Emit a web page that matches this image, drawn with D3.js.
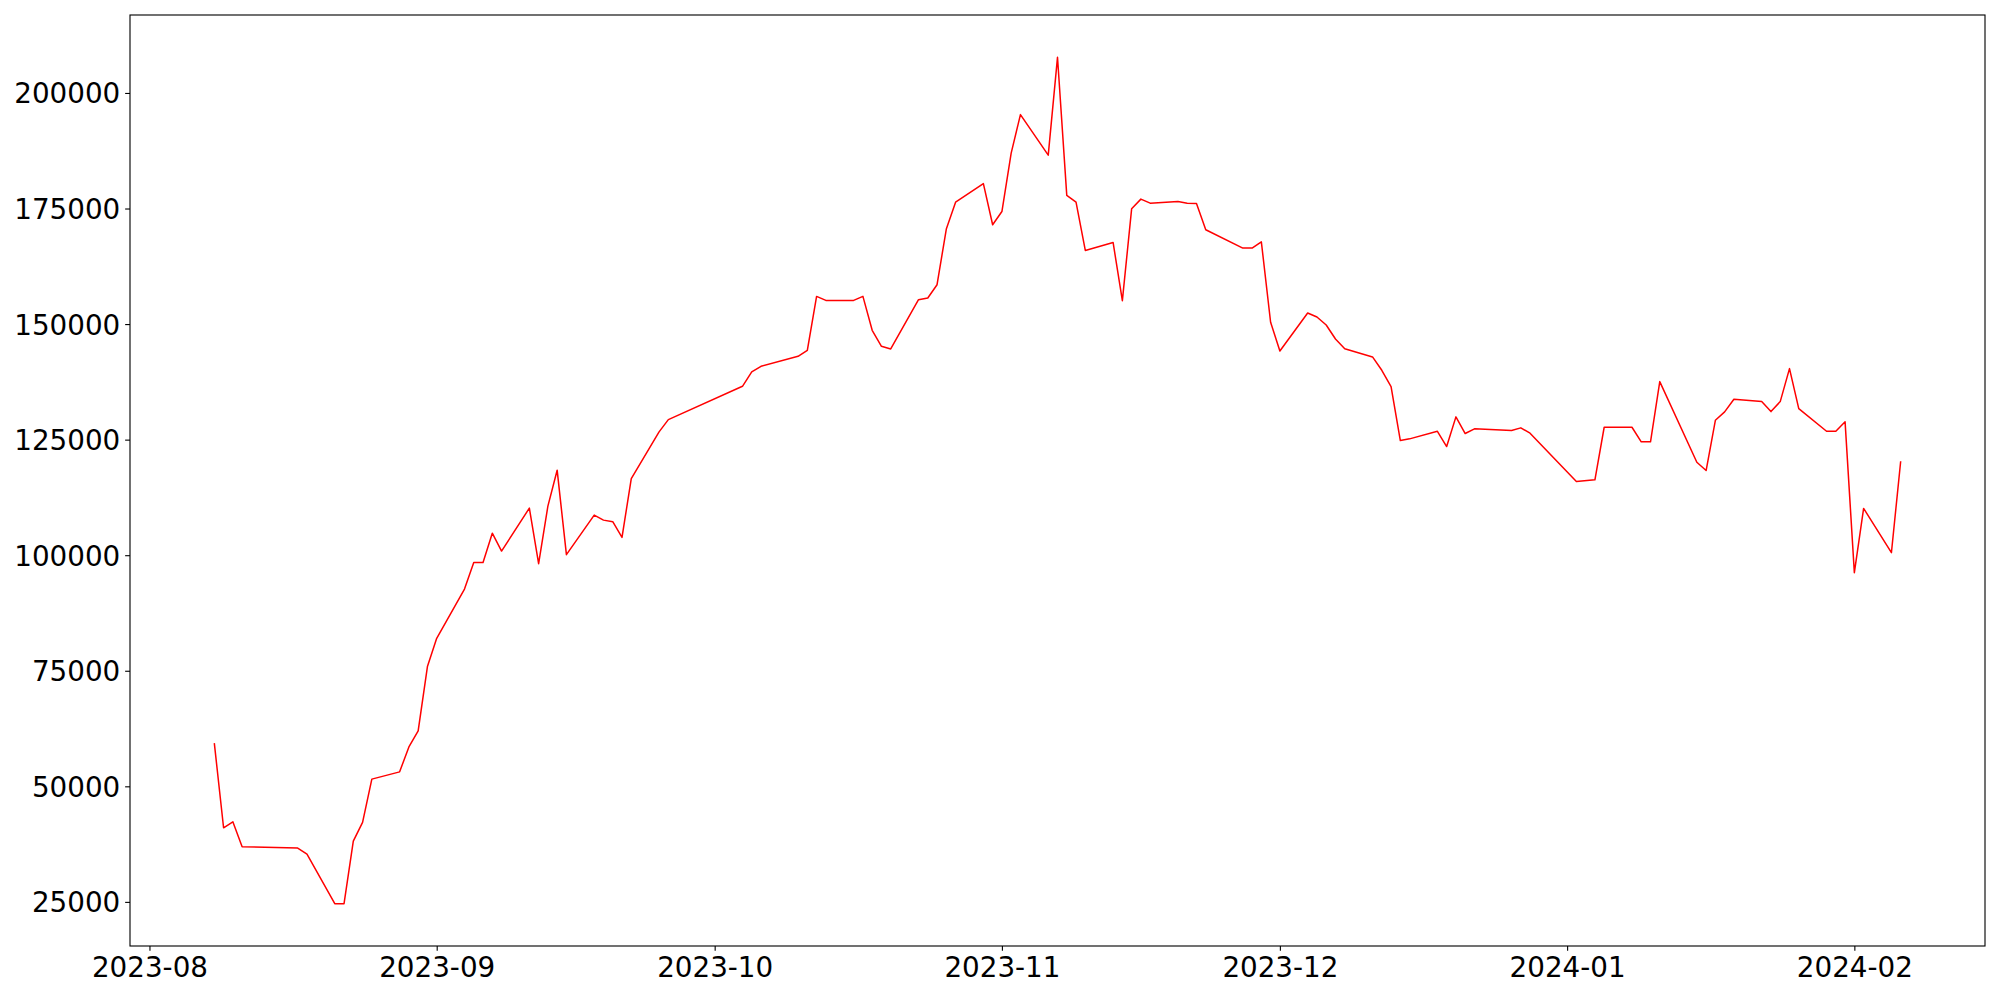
<!DOCTYPE html>
<html>
<head>
<meta charset="utf-8">
<script src="https://cdn.jsdelivr.net/npm/d3@7"></script>
<style>
  html, body { margin: 0; padding: 0; background: #fff; }
  svg { display: block; }
  text { font-family: "DejaVu Sans", sans-serif; }
</style>
</head>
<body>
<svg id="chart" width="2000" height="1000"></svg>
<script>
// ---- data ----
const dates = [
  "2023-08-08","2023-08-09","2023-08-10","2023-08-11","2023-08-17","2023-08-18",
  "2023-08-21","2023-08-22","2023-08-23","2023-08-24","2023-08-25",
  "2023-08-28","2023-08-29","2023-08-30","2023-08-31","2023-09-01",
  "2023-09-04","2023-09-05","2023-09-06","2023-09-07","2023-09-08",
  "2023-09-11","2023-09-12","2023-09-13","2023-09-14","2023-09-15",
  "2023-09-18","2023-09-19","2023-09-20","2023-09-21","2023-09-22",
  "2023-09-25","2023-09-26","2023-10-04","2023-10-05","2023-10-06",
  "2023-10-10","2023-10-11","2023-10-12","2023-10-13",
  "2023-10-16","2023-10-17","2023-10-18","2023-10-19","2023-10-20",
  "2023-10-23","2023-10-24","2023-10-25","2023-10-26","2023-10-27",
  "2023-10-30","2023-10-31","2023-11-01","2023-11-02","2023-11-03",
  "2023-11-06","2023-11-07","2023-11-08","2023-11-09","2023-11-10",
  "2023-11-13","2023-11-14","2023-11-15","2023-11-16","2023-11-17",
  "2023-11-20","2023-11-21","2023-11-22","2023-11-23",
  "2023-11-27","2023-11-28","2023-11-29","2023-11-30","2023-12-01",
  "2023-12-04","2023-12-05","2023-12-06","2023-12-07","2023-12-08",
  "2023-12-11","2023-12-12","2023-12-13","2023-12-14","2023-12-15",
  "2023-12-18","2023-12-19","2023-12-20","2023-12-21","2023-12-22",
  "2023-12-26","2023-12-27","2023-12-28",
  "2024-01-02","2024-01-04","2024-01-05",
  "2024-01-08","2024-01-09","2024-01-10","2024-01-11",
  "2024-01-15","2024-01-16","2024-01-17","2024-01-18","2024-01-19",
  "2024-01-22","2024-01-23","2024-01-24","2024-01-25","2024-01-26",
  "2024-01-29","2024-01-30","2024-01-31","2024-02-01","2024-02-02",
  "2024-02-05","2024-02-06"
];
const values = [
  59330, 41030, 42330, 36920, 36650, 35350,
  24610, 24610, 38160, 42190, 51555,
  53130, 58530, 61990, 75900, 82020,
  92680, 98440, 98440, 104770, 100890,
  110180, 98160, 110610, 118390, 100110,
  108670, 107590, 107240, 103840, 116590,
  126680, 129340, 136540, 139650, 140860,
  143020, 144320, 155990, 155120,
  155120, 155990, 148650, 145190, 144610,
  155270, 155640, 158510, 170550, 176380,
  180400, 171480, 174350, 186970, 195310,
  186540, 207710, 177850, 176380, 165925,
  167650, 155060, 174930, 177030, 176160,
  176510, 176160, 176090, 170400,
  166440, 166440, 167800, 150400, 144190,
  152400, 151530, 149800, 146780, 144680,
  142890, 140000, 136470, 124800, 125170,
  126810, 123510, 129930, 126320, 127330,
  126970, 127550, 126390,
  115950, 116310, 127680,
  127680, 124520, 124520, 137550,
  120120, 118320, 129190, 131000, 133730,
  133230, 131070, 133230, 140360, 131720,
  126810, 126810, 128850, 96220, 110110,
  100540, 120330
];
const yTickValues = [25000, 50000, 75000, 100000, 125000, 150000, 175000, 200000];
const xTickLabels = ["2023-08","2023-09","2023-10","2023-11","2023-12","2024-01","2024-02"];

// ---- layout ----
const L = 130, R = 1985, T = 15, B = 946;
const svg = d3.select("#chart");
const parse = d3.utcParse("%Y-%m-%d");
const data = dates.map((d, i) => ({ date: parse(d), value: values[i] }));

const xExt = d3.extent(data, d => d.date);
const xPad = (xExt[1] - xExt[0]) * 0.05;
const x = d3.scaleUtc()
  .domain([new Date(+xExt[0] - xPad), new Date(+xExt[1] + xPad)])
  .range([L, R]);

const yExt = d3.extent(values);
const yPad = (yExt[1] - yExt[0]) * 0.05;
const y = d3.scaleLinear()
  .domain([yExt[0] - yPad, yExt[1] + yPad])
  .range([B, T]);

const tickLen = 4.86, tickPad = 4.86, fs = 27.78;
const parseM = d3.utcParse("%Y-%m");
const fmtM = d3.utcFormat("%Y-%m");

// x axis
const xAxis = d3.axisBottom(x)
  .tickValues(xTickLabels.map(parseM))
  .tickFormat(fmtM)
  .tickSizeInner(tickLen).tickSizeOuter(0).tickPadding(tickPad);
const gx = svg.append("g").attr("transform", `translate(0,${B})`).call(xAxis);
gx.select(".domain").remove();
gx.selectAll(".tick line").attr("stroke", "#000").attr("stroke-width", 1.11);
gx.selectAll(".tick text")
  .attr("font-family", "DejaVu Sans").attr("font-size", fs).attr("fill", "#000")
  .attr("y", tickLen + tickPad).attr("dy", "0.76em");

// y axis
const yAxis = d3.axisLeft(y)
  .tickValues(yTickValues)
  .tickFormat(d3.format("d"))
  .tickSizeInner(tickLen).tickSizeOuter(0).tickPadding(tickPad);
const gy = svg.append("g").attr("transform", `translate(${L},0)`).call(yAxis);
gy.select(".domain").remove();
gy.selectAll(".tick line").attr("stroke", "#000").attr("stroke-width", 1.11);
gy.selectAll(".tick text")
  .attr("font-family", "DejaVu Sans").attr("font-size", fs).attr("fill", "#000")
  .attr("dy", "0.36em");

// clip & line
svg.append("clipPath").attr("id", "clip")
  .append("rect").attr("x", L).attr("y", T).attr("width", R - L).attr("height", B - T);

const line = d3.line().x(d => x(d.date)).y(d => y(d.value));
svg.append("path")
  .datum(data)
  .attr("clip-path", "url(#clip)")
  .attr("fill", "none")
  .attr("stroke", "#ff0000")
  .attr("stroke-width", 1.5)
  .attr("stroke-linejoin", "round")
  .attr("d", line);

// frame
svg.append("rect")
  .attr("x", L).attr("y", T).attr("width", R - L).attr("height", B - T)
  .attr("fill", "none").attr("stroke", "#000").attr("stroke-width", 1.11);
</script>
</body>
</html>
